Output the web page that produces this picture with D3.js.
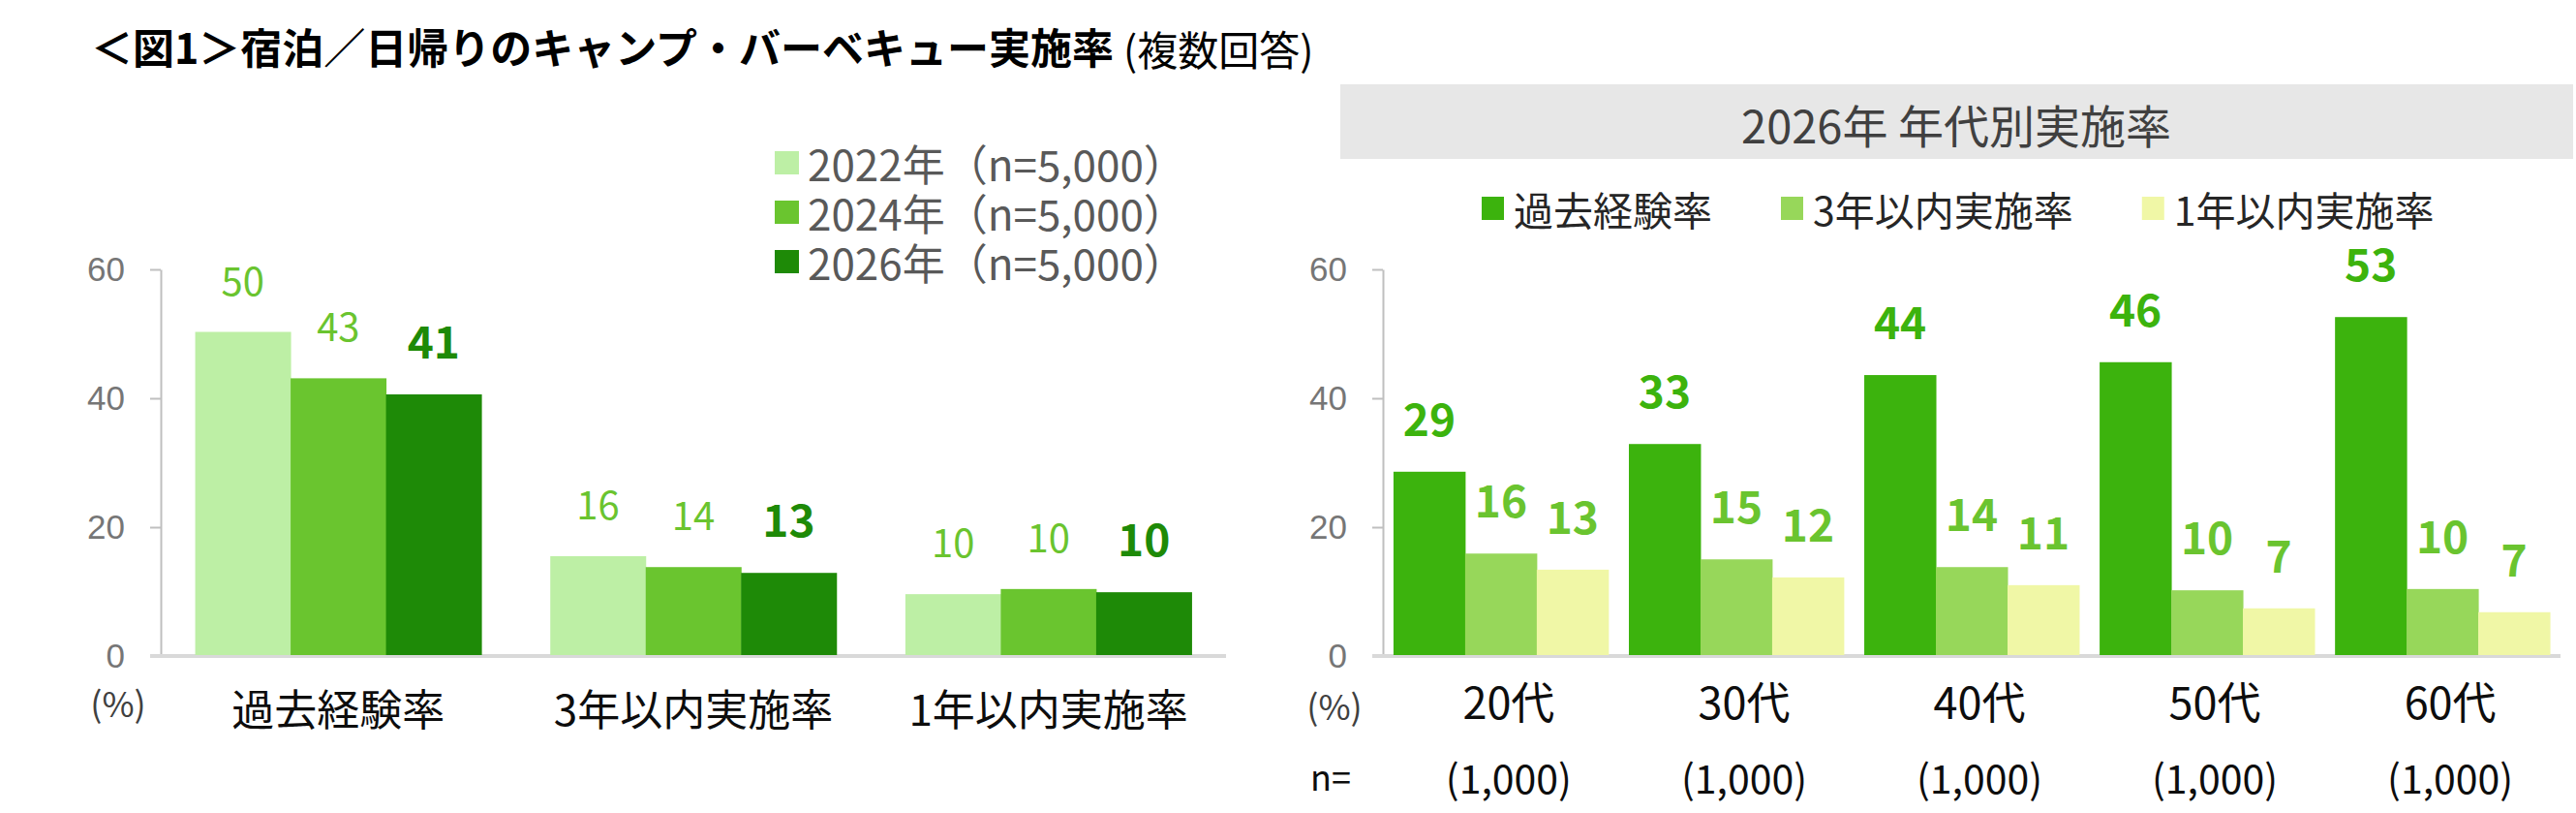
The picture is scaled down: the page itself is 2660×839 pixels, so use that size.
<!DOCTYPE html>
<html>
<head>
<meta charset="utf-8">
<script src="https://cdn.jsdelivr.net/npm/d3@7"></script>
<style>
  body { margin: 0; background: #fff; }
  svg { display: block; font-family: "Noto Sans CJK JP", "Noto Sans", sans-serif; }
</style>
</head>
<body>
<div id="chart"></div>
<script>
// left chart: survey years
const leftCategories = ["過去経験率", "3年以内実施率", "1年以内実施率"];
const leftSeries = ["2022年（n=5,000）", "2024年（n=5,000）", "2026年（n=5,000）"];
const values2022 = [50.3, 15.5, 9.6];
const values2024 = [43.1, 13.8, 10.4];
const values2026 = [40.6, 12.9, 9.9];

// right chart: 2026 by age group
const ageGroups = ["20代", "30代", "40代", "50代", "60代"];
const ageN = ["(1,000)", "(1,000)", "(1,000)", "(1,000)", "(1,000)"];
const rightSeries = ["過去経験率", "3年以内実施率", "1年以内実施率"];
const pastRate = [28.6, 32.9, 43.6, 45.6, 52.6];
const within3yRate = [15.9, 15.0, 13.8, 10.2, 10.4];
const within1yRate = [13.4, 12.2, 11.0, 7.4, 6.8];

const yTicks = [0, 20, 40, 60];

const W = 2660, H = 839;
const svg = d3.select("#chart").append("svg")
  .attr("width", W).attr("height", H)
  .attr("viewBox", `0 0 ${W} ${H}`);

// title
svg.append("text")
  .attr("x", 94).attr("y", 47)
  .attr("dominant-baseline", "central")
  .style("font-size", "43px").style("font-weight", "bold").style("fill", "#000")
  .text("＜図1＞宿泊／日帰りのキャンプ・バーベキュー実施率");
svg.append("text")
  .attr("x", 1160).attr("y", 49)
  .attr("dominant-baseline", "central")
  .style("font-size", "42px").style("fill", "#000")
  .text("(複数回答)");

const y = d3.scaleLinear().domain([0, 60]).range([677, 278]);

const drawAxis = (axisX, baseStart, baseEnd) => {
  const g = svg.append("g")
    .attr("transform", `translate(${axisX},0)`)
    .call(d3.axisLeft(y).tickValues(yTicks).tickSize(11).tickSizeOuter(0).tickPadding(26));
  g.select(".domain").attr("stroke", "#bfbfbf").attr("stroke-width", 2);
  g.selectAll(".tick line").attr("stroke", "#bfbfbf").attr("stroke-width", 2);
  g.selectAll(".tick text")
    .attr("font-family", null)
    .style("font-size", "35px").style("fill", "#767676");
  svg.append("line")
    .attr("x1", baseStart).attr("x2", baseEnd)
    .attr("y1", y(0)).attr("y2", y(0))
    .attr("stroke", "#d9d9d9").attr("stroke-width", 4);
};

// ---------- left chart ----------
const leftColors = ["#bdefa5", "#6ac52f", "#1e8a07"];
const leftLabelColors = ["#6ac42f", "#6ac42f", "#1e8a07"];
const leftData = [values2022, values2024, values2026];

const x0 = d3.scaleBand().domain(leftCategories).range([166, 1266])
  .paddingInner(0.194).paddingOuter(0.097);
const x1 = d3.scaleBand().domain(d3.range(leftSeries.length)).range([0, x0.bandwidth()]);

drawAxis(166, 155, 1266);

leftCategories.forEach((cat, ci) => {
  const g = svg.append("g").attr("transform", `translate(${x0(cat)},0)`);
  leftData.forEach((vals, si) => {
    g.append("rect")
      .attr("x", x1(si)).attr("width", x1.bandwidth() + 0.5)
      .attr("y", y(vals[ci])).attr("height", y(0) - y(vals[ci]) - 1)
      .attr("fill", leftColors[si]);
    const bold = si === 2;
    g.append("text")
      .attr("x", x1(si) + x1.bandwidth() / 2)
      .attr("y", y(vals[ci]) - (bold ? 57 : 55))
      .attr("text-anchor", "middle").attr("dominant-baseline", "central")
      .style("font-size", bold ? "46px" : "40px")
      .style("font-weight", bold ? "bold" : "normal")
      .style("fill", leftLabelColors[si])
      .text(Math.round(vals[ci]));
  });
  svg.append("text")
    .attr("x", x0(cat) + x0.bandwidth() / 2).attr("y", 730)
    .attr("text-anchor", "middle").attr("dominant-baseline", "central")
    .style("font-size", "44px").style("fill", "#0d0d0d")
    .text(cat);
});

svg.append("text")
  .attr("x", 122).attr("y", 724)
  .attr("text-anchor", "middle").attr("dominant-baseline", "central")
  .style("font-size", "36px").style("fill", "#404040")
  .text("(%)");

// left legend
leftSeries.forEach((name, i) => {
  const cy = 168 + i * 51;
  svg.append("rect")
    .attr("x", 800).attr("y", cy - 12).attr("width", 25).attr("height", 24)
    .attr("fill", leftColors[i]);
  svg.append("text")
    .attr("x", 834).attr("y", cy)
    .attr("dominant-baseline", "central")
    .style("font-size", "44px").style("fill", "#595959")
    .text(name);
});

// ---------- right chart ----------
const rightColors = ["#3cb30d", "#97d75a", "#f0f7a6"];
const rightLabelColors = ["#3cb30d", "#6ac42f", "#6ac42f"];
const rightData = [pastRate, within3yRate, within1yRate];

svg.append("rect")
  .attr("x", 1384).attr("y", 87).attr("width", 1273).attr("height", 77)
  .attr("fill", "#e7e7e7");
svg.append("text")
  .attr("x", 2020).attr("y", 127)
  .attr("text-anchor", "middle").attr("dominant-baseline", "central")
  .style("font-size", "47px").style("fill", "#404040")
  .text("2026年 年代別実施率");

// right legend
let lx = 1530;
rightSeries.forEach((name, i) => {
  svg.append("rect")
    .attr("x", lx).attr("y", 203).attr("width", 23).attr("height", 24)
    .attr("fill", rightColors[i]);
  const t = svg.append("text")
    .attr("x", lx + 33).attr("y", 215)
    .attr("dominant-baseline", "central")
    .style("font-size", "41px").style("fill", "#262626")
    .text(name);
  lx += 33 + t.node().getComputedTextLength() + 71;
});

const a0 = d3.scaleBand().domain(ageGroups).range([1428, 2644])
  .paddingInner(0.087).paddingOuter(0.045);
const a1 = d3.scaleBand().domain(d3.range(rightSeries.length)).range([0, a0.bandwidth()]);

drawAxis(1428, 1417, 2644);

ageGroups.forEach((age, ci) => {
  const g = svg.append("g").attr("transform", `translate(${a0(age)},0)`);
  rightData.forEach((vals, si) => {
    g.append("rect")
      .attr("x", a1(si)).attr("width", a1.bandwidth() + 0.5)
      .attr("y", y(vals[ci])).attr("height", y(0) - y(vals[ci]) - 1)
      .attr("fill", rightColors[si]);
    g.append("text")
      .attr("x", a1(si) + a1.bandwidth() / 2)
      .attr("y", y(vals[ci]) - 57)
      .attr("text-anchor", "middle").attr("dominant-baseline", "central")
      .style("font-size", "46px").style("font-weight", "bold")
      .style("fill", rightLabelColors[si])
      .text(Math.round(vals[ci]));
  });
  const cx = a0(age) + a0.bandwidth() / 2;
  svg.append("text")
    .attr("x", cx + 8).attr("y", 722)
    .attr("text-anchor", "middle").attr("dominant-baseline", "central")
    .style("font-size", "45px").style("fill", "#0d0d0d")
    .text(age);
  svg.append("text")
    .attr("x", cx + 8).attr("y", 801)
    .attr("text-anchor", "middle").attr("dominant-baseline", "central")
    .style("font-size", "41px").style("fill", "#0d0d0d")
    .text(ageN[ci]);
});

svg.append("text")
  .attr("x", 1378).attr("y", 727)
  .attr("text-anchor", "middle").attr("dominant-baseline", "central")
  .style("font-size", "36px").style("fill", "#404040")
  .text("(%)");
svg.append("text")
  .attr("x", 1374).attr("y", 800)
  .attr("text-anchor", "middle").attr("dominant-baseline", "central")
  .style("font-size", "36px").style("fill", "#0d0d0d")
  .text("n=");
</script>
</body>
</html>
